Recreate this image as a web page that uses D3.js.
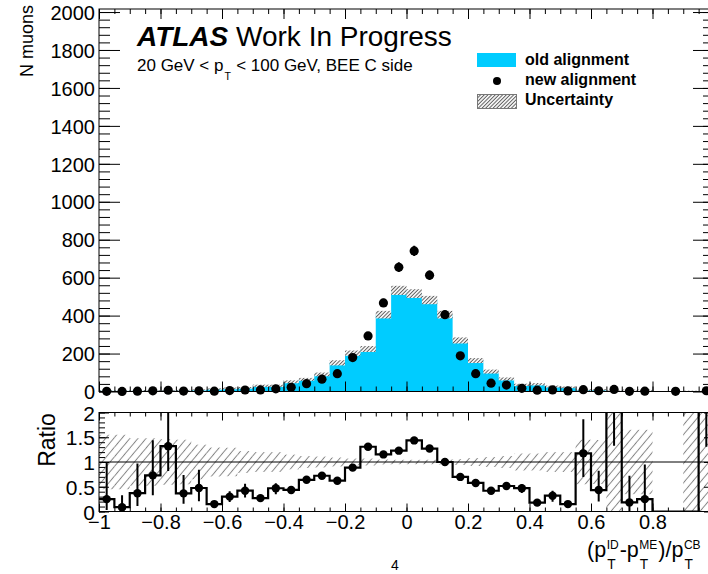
<!DOCTYPE html>
<html>
<head>
<meta charset="utf-8">
<script src="https://cdn.jsdelivr.net/npm/d3@7"></script>
<style>
  body { margin: 0; background: #fff; }
  svg { display: block; }
  text { font-family: "Liberation Sans", Arial, Helvetica, sans-serif; fill: #000; white-space: pre; }
</style>
</head>
<body>
<svg id="chart" width="708" height="574"></svg>
<script>
// Bin edges of (pT^ID - pT^ME)/pT^CB, 40 bins of width 0.05
const binEdges = [-1,-0.95,-0.9,-0.85,-0.8,-0.75,-0.7,-0.65,-0.6,-0.55,-0.5,-0.45,-0.4,-0.35,-0.3,-0.25,-0.2,-0.15,-0.1,-0.05,
                  0,0.05,0.1,0.15,0.2,0.25,0.3,0.35,0.4,0.45,0.5,0.55,0.6,0.65,0.7,0.75,0.8,0.85,0.9,0.95,1];

// Old alignment (filled histogram) and its uncertainty
const oldAlign = [4,4,5,5,5,6,8,13,16,19,30,30,51,64,90,151,202,224,405,533,
                  516,482,405,269,163,105,66,35,38,26,22,8,9,3,6,6,0,0,2,1];
const oldUnc   = [2.2,2.2,2.4,2.4,2.3,2.7,2.8,3.8,4.6,4.2,6,6,7.6,7.7,9.9,13.6,14,15.7,20,24,
                  23,22,20,16,13,10.5,8,6,6.5,5.2,4.4,3.6,4,3.3,3.9,3.9,0,0,2.4,1];

// New alignment (points) and statistical errors
const newAlign = [1.0,0.35,1.85,3.65,6.6,2.2,3.8,1.95,4.8,8.0,8.1,14.1,22.2,41,65,94,179,293,467,655,
                  741,613,405,188,94,44,34,16.5,6.8,8.3,3.3,9.4,3.9,11,1.1,1.5,0,1,0,4];
const newErr   = [1,0.6,1.4,1.9,2.6,1.5,1.9,1.4,2.2,2.8,2.8,3.8,4.7,6.4,8.1,9.7,13.4,17.1,21.6,25.6,
                  27.2,24.8,20.1,13.7,9.7,6.6,5.8,4.1,2.6,2.9,1.8,3.1,2,3.3,1,1.2,0,1,0,2];

// Ratio error bars (down / up)
const ratioErrLo = [.22,.09,.26,.4,.5,.21,.27,.05,.11,.14,.06,.12,.08,.06,.05,.04,.04,.04,.03,.03,
                    .03,.03,.03,.04,.05,.05,.08,.1,.04,.12,.04,.48,.23,2.34,.18,.25,0,0,0,2.69];
const ratioErrHi = [.73,.24,.6,.71,.75,.37,.37,.05,.11,.14,.06,.1,.08,.06,.05,.04,.04,.04,.03,.03,
                    .03,.03,.03,.04,.05,.05,.07,.08,.04,.1,.04,.69,.39,2.3,.54,.7,0,0,0,2.5];

// Axis ticks and labels
const xMajorTicks = [-1,-0.8,-0.6,-0.4,-0.2,0,0.2,0.4,0.6,0.8,1];
const xTickLabels = ["\u22121","\u22120.8","\u22120.6","\u22120.4","\u22120.2","0","0.2","0.4","0.6","0.8","1"];
const yTopTicks = [0,200,400,600,800,1000,1200,1400,1600,1800,2000];
const ratioTicks = [0,0.5,1,1.5,2];
const ratioTickLabels = ["0","0.5","1","1.5","2"];

const svg = d3.select("#chart");
const W = 708, H = 574;
svg.append("rect").attr("width", W).attr("height", H).attr("fill", "#fff");

// Scales
const padL = 99, padR = 714;
const x = d3.scaleLinear().domain([-1, 1]).range([padL, padR]);
const yTop = d3.scaleLinear().domain([0, 2016]).range([391.5, 9]);
const yRat = d3.scaleLinear().domain([0, 2]).range([511.5, 412.5]);

const nBins = oldAlign.length;
const bins = d3.range(nBins).map(i => ({
  i, lo: binEdges[i], hi: binEdges[i + 1], c: (binEdges[i] + binEdges[i + 1]) / 2,
  old: oldAlign[i], unc: oldUnc[i], nw: newAlign[i], nwErr: newErr[i],
  ratio: oldAlign[i] > 0 ? newAlign[i] / oldAlign[i] : 0,
  rLo: ratioErrLo[i], rHi: ratioErrHi[i]
}));

// Patterns
const defs = svg.append("defs");
function hatch(id, spacing, angle, color, width, bg) {
  const p = defs.append("pattern").attr("id", id).attr("patternUnits", "userSpaceOnUse")
    .attr("width", spacing).attr("height", spacing).attr("patternTransform", `rotate(${angle})`);
  if (bg) p.append("rect").attr("width", spacing).attr("height", spacing).attr("fill", bg);
  p.append("line").attr("x1", spacing / 2).attr("x2", spacing / 2).attr("y1", 0).attr("y2", spacing)
    .attr("stroke", color).attr("stroke-width", width);
}
hatch("hatchTop", 2.6, 45, "#5a5a5a", 1, "#ffffff");
hatch("hatchLeg", 2.6, 45, "#5a5a5a", 1, "#ffffff");
hatch("hatchRatio", 6.2, 40, "#858585", 1, null);

defs.append("clipPath").attr("id", "clipTop").append("rect")
  .attr("x", padL).attr("y", 9).attr("width", padR - padL).attr("height", 391.5 - 9);
defs.append("clipPath").attr("id", "clipRat").append("rect")
  .attr("x", padL).attr("y", 412.5).attr("width", padR - padL).attr("height", 511.5 - 412.5);

// ---------- Upper pad ----------
const upper = svg.append("g");
const upperPlot = upper.append("g").attr("clip-path", "url(#clipTop)");

// old alignment as a filled step histogram
let area = `M${x(binEdges[0])},${yTop(0)}`;
bins.forEach(b => { area += `V${yTop(b.old)}H${x(b.hi)}`; });
area += `V${yTop(0)}Z`;
upperPlot.append("path").attr("d", area).attr("fill", "#00ccff");

// uncertainty band
upperPlot.selectAll("rect.unc").data(bins.filter(b => b.unc > 0)).join("rect")
  .attr("class", "unc")
  .attr("x", b => x(b.lo)).attr("width", b => x(b.hi) - x(b.lo))
  .attr("y", b => yTop(b.old + b.unc))
  .attr("height", b => yTop(Math.max(0, b.old - b.unc)) - yTop(b.old + b.unc))
  .attr("fill", "url(#hatchTop)");

// new alignment points
const ptsTop = bins.filter(b => b.nw > 0);
upperPlot.selectAll("line.err").data(ptsTop).join("line").attr("class", "err")
  .attr("x1", b => x(b.c)).attr("x2", b => x(b.c))
  .attr("y1", b => yTop(b.nw + b.nwErr)).attr("y2", b => yTop(Math.max(0, b.nw - b.nwErr)))
  .attr("stroke", "#000").attr("stroke-width", 2);
upper.selectAll("circle.pt").data(ptsTop).join("circle").attr("class", "pt")
  .attr("cx", b => x(b.c)).attr("cy", b => yTop(b.nw)).attr("r", 4.6).attr("fill", "#000");

// axes of upper pad
function styleAxis(g) { g.select(".domain").remove(); g.selectAll("line").attr("stroke", "#000"); }
const yMinorTop = d3.range(0, 2016, 40);
upper.append("g").attr("transform", `translate(${padL},0)`)
  .call(d3.axisLeft(yTop).tickValues(yTopTicks).tickSize(-21).tickPadding(4).tickFormat(d3.format("d")))
  .call(styleAxis)
  .call(g => g.selectAll("text").attr("font-size", 20).attr("font-family", null).attr("dy", "0.36em"));
upper.append("g").attr("transform", `translate(${padL},0)`)
  .call(d3.axisLeft(yTop).tickValues(yMinorTop).tickSize(-11).tickFormat("")).call(styleAxis);
upper.append("g").attr("transform", `translate(${padR},0)`)
  .call(d3.axisRight(yTop).tickValues(yTopTicks).tickSize(-21).tickFormat("")).call(styleAxis);
upper.append("g").attr("transform", `translate(${padR},0)`)
  .call(d3.axisRight(yTop).tickValues(yMinorTop).tickSize(-11).tickFormat("")).call(styleAxis);

const xMinor = binEdges;
[[391.5, d3.axisBottom], [9, d3.axisTop]].forEach(([yy, ax]) => {
  upper.append("g").attr("transform", `translate(0,${yy})`)
    .call(ax(x).tickValues(xMajorTicks).tickSize(-10).tickFormat("")).call(styleAxis);
  upper.append("g").attr("transform", `translate(0,${yy})`)
    .call(ax(x).tickValues(xMinor).tickSize(-5).tickFormat("")).call(styleAxis);
});
upper.append("rect").attr("x", padL).attr("y", 9).attr("width", padR - padL).attr("height", 391.5 - 9)
  .attr("fill", "none").attr("stroke", "#000").attr("stroke-width", 1);

// y title
upper.append("text").attr("transform", "translate(33,5) rotate(-90)")
  .attr("text-anchor", "end").attr("font-size", 18).text("N muons");

// Small helper for text with stacked sub/superscripts
function richText(parent, x0, y0, size, parts, subScale, supScale) {
  let cx = x0;
  const g = parent.append("g");
  parts.forEach(p => {
    if (typeof p === "string") {
      const t = g.append("text").attr("x", cx).attr("y", y0).attr("font-size", size).text(p);
      cx += t.node().getComputedTextLength();
    } else {
      let w = 0;
      if (p.sub) {
        const t = g.append("text").attr("x", cx + 1).attr("y", y0 + size * 0.55)
          .attr("font-size", size * subScale).text(p.sub);
        w = Math.max(w, t.node().getComputedTextLength());
      }
      if (p.sup) {
        const t = g.append("text").attr("x", cx + 0.5).attr("y", y0 - size * 0.38)
          .attr("font-size", size * supScale).text(p.sup);
        w = Math.max(w, t.node().getComputedTextLength());
      }
      cx += w + 1.5;
    }
  });
  return g;
}

// ATLAS label
const atl = upper.append("text").attr("x", 137).attr("y", 46).attr("font-size", 28);
atl.append("tspan").attr("font-weight", "bold").attr("font-style", "italic").text("ATLAS");
atl.append("tspan").text(" Work In Progress");
richText(upper, 137, 71, 17, ["20 GeV < p", {sub: "T"}, " < 100 GeV, BEE C side"], 0.62, 0.62);

// Legend
const leg = upper.append("g");
leg.append("rect").attr("x", 477).attr("y", 53).attr("width", 39).attr("height", 14).attr("fill", "#00ccff");
leg.append("circle").attr("cx", 497).attr("cy", 81).attr("r", 4).attr("fill", "#000");
leg.append("rect").attr("x", 477.5).attr("y", 94.5).attr("width", 39).attr("height", 14)
  .attr("fill", "url(#hatchLeg)").attr("stroke", "#777").attr("stroke-width", 1);
const legLabels = ["old alignment", "new alignment", "Uncertainty"];
leg.selectAll("text").data(legLabels).join("text")
  .attr("x", 525).attr("y", (d, i) => 65 + 20 * i).attr("font-size", 16).attr("font-weight", "bold").text(d => d);

// ---------- Ratio pad ----------
const rat = svg.append("g");
const ratPlot = rat.append("g").attr("clip-path", "url(#clipRat)");

ratPlot.selectAll("rect.band").data(bins.filter(b => b.old > 0 && b.unc > 0)).join("rect")
  .attr("class", "band")
  .attr("x", b => x(b.lo)).attr("width", b => x(b.hi) - x(b.lo))
  .attr("y", b => yRat(1 + b.unc / b.old))
  .attr("height", b => yRat(Math.max(0, 1 - b.unc / b.old)) - yRat(1 + b.unc / b.old))
  .attr("fill", "url(#hatchRatio)");

ratPlot.append("line").attr("x1", padL).attr("x2", padR).attr("y1", yRat(1)).attr("y2", yRat(1))
  .attr("stroke", "#000").attr("stroke-width", 1);

let step = `M${x(binEdges[0])},${yRat(bins[0].ratio)}`;
bins.forEach((b, i) => {
  if (i > 0) step += `V${yRat(b.ratio)}`;
  step += `H${x(b.hi)}`;
});
ratPlot.append("path").attr("d", step).attr("fill", "none").attr("stroke", "#000").attr("stroke-width", 2.2);

const ptsRat = bins.filter(b => b.ratio > 0);
ratPlot.selectAll("line.rerr").data(ptsRat).join("line").attr("class", "rerr")
  .attr("x1", b => x(b.c)).attr("x2", b => x(b.c))
  .attr("y1", b => yRat(b.ratio + b.rHi)).attr("y2", b => yRat(Math.max(0, b.ratio - b.rLo)))
  .attr("stroke", "#000").attr("stroke-width", 2);
ratPlot.selectAll("circle.rpt").data(ptsRat).join("circle").attr("class", "rpt")
  .attr("cx", b => x(b.c)).attr("cy", b => yRat(b.ratio)).attr("r", 4.2).attr("fill", "#000");

const rMinor = d3.range(0, 2.001, 0.1);
rat.append("g").attr("transform", `translate(${padL},0)`)
  .call(d3.axisLeft(yRat).tickValues(ratioTicks).tickSize(-10).tickPadding(4)
    .tickFormat((d, i) => ratioTickLabels[i]))
  .call(styleAxis)
  .call(g => g.selectAll("text").attr("font-size", 21).attr("font-family", null).attr("dy", "0.36em"));
rat.append("g").attr("transform", `translate(${padL},0)`)
  .call(d3.axisLeft(yRat).tickValues(rMinor).tickSize(-6).tickFormat("")).call(styleAxis);
rat.append("g").attr("transform", `translate(${padR},0)`)
  .call(d3.axisRight(yRat).tickValues(ratioTicks).tickSize(-10).tickFormat("")).call(styleAxis);
rat.append("g").attr("transform", `translate(${padR},0)`)
  .call(d3.axisRight(yRat).tickValues(rMinor).tickSize(-6).tickFormat("")).call(styleAxis);

rat.append("g").attr("transform", `translate(0,511.5)`)
  .call(d3.axisBottom(x).tickValues(xMajorTicks).tickSize(-8).tickPadding(3)
    .tickFormat((d, i) => xTickLabels[i]))
  .call(styleAxis)
  .call(g => g.selectAll("text").attr("font-size", 20).attr("font-family", null));
rat.append("g").attr("transform", `translate(0,511.5)`)
  .call(d3.axisBottom(x).tickValues(xMinor).tickSize(-4).tickFormat("")).call(styleAxis);
rat.append("g").attr("transform", `translate(0,412.5)`)
  .call(d3.axisTop(x).tickValues(xMajorTicks).tickSize(-8).tickFormat("")).call(styleAxis);
rat.append("g").attr("transform", `translate(0,412.5)`)
  .call(d3.axisTop(x).tickValues(xMinor).tickSize(-4).tickFormat("")).call(styleAxis);

rat.append("rect").attr("x", padL).attr("y", 412.5).attr("width", padR - padL).attr("height", 511.5 - 412.5)
  .attr("fill", "none").attr("stroke", "#000").attr("stroke-width", 1);

rat.append("text").attr("transform", "translate(55,440) rotate(-90)")
  .attr("text-anchor", "middle").attr("font-size", 23).text("Ratio");

// x-axis title
richText(rat, 587, 557, 21.5, ["(p", {sub: "T", sup: "ID"}, "-p", {sub: "T", sup: "ME"}, ")/p", {sub: "T", sup: "CB"}], 0.64, 0.56);

svg.append("text").attr("x", 395).attr("y", 570).attr("text-anchor", "middle").attr("font-size", 14).text("4");
</script>
</body>
</html>
